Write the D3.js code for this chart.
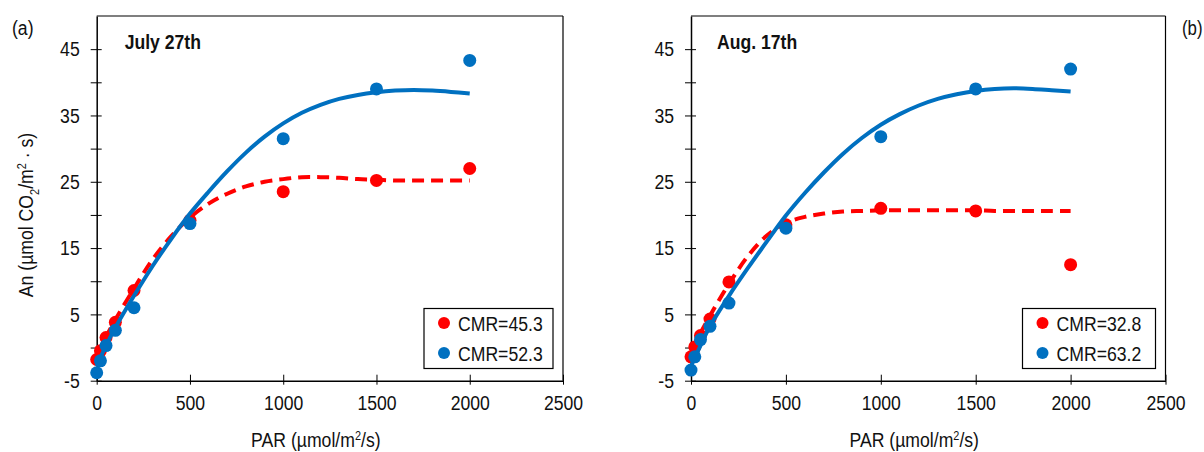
<!DOCTYPE html>
<html>
<head>
<meta charset="utf-8">
<script src="https://d3js.org/d3.v7.min.js"></script>
<style>
  html, body { margin: 0; padding: 0; background: #fff; }
  svg text { font-family: "Liberation Sans", Arial, sans-serif; fill: #111; }
</style>
</head>
<body>
<svg id="chart" width="1204" height="452"></svg>
<script>
// measured PAR levels
const par = [0, 20, 50, 100, 200, 500, 1000, 1500, 2000];

// panel (a) July 27th
const julyRed = [-1.8, -0.5, 1.5, 3.8, 8.6, 19.2, 23.5, 25.2, 27.0];
const julyBlue = [-3.8, -2.0, 0.3, 2.6, 6.0, 18.7, 31.5, 39.0, 43.3];
// panel (b) Aug. 17th
const augRed = [-1.4, 0.1, 1.8, 4.3, 9.9, 18.5, 21.0, 20.6, 12.5];
const augBlue = [-3.4, -1.4, 1.2, 3.2, 6.7, 18.0, 31.8, 39.0, 42.0];

// fitted curves
const fitPar = [0, 50, 100, 200, 300, 400, 500, 600, 700, 800, 900, 1000, 1100, 1200, 1300, 1400, 1500, 1600, 1700, 1800, 1900, 2000];
const julyRedFit = [-1.2, 1.6, 4.2, 8.9, 13.3, 16.8, 19.6, 21.7, 23.2, 24.3, 25.0, 25.4, 25.7, 25.7, 25.6, 25.4, 25.3, 25.2, 25.2, 25.2, 25.2, 25.2];
const julyBlueFit = [-2.8, 0.3, 3.0, 7.8, 12.3, 16.4, 20.2, 23.5, 26.6, 29.4, 31.8, 33.8, 35.4, 36.6, 37.5, 38.1, 38.5, 38.75, 38.85, 38.75, 38.55, 38.3];
const augRedFit = [-0.5, 2.2, 4.8, 9.6, 13.8, 16.9, 18.8, 19.7, 20.2, 20.5, 20.6, 20.7, 20.7, 20.7, 20.7, 20.7, 20.7, 20.6, 20.6, 20.6, 20.6, 20.6];
const augBlueFit = [-2.8, 0.3, 3.2, 7.8, 12.0, 16.0, 19.9, 23.3, 26.4, 29.2, 31.6, 33.6, 35.2, 36.5, 37.5, 38.2, 38.7, 39.0, 39.1, 39.0, 38.8, 38.6];

const yMajor = [-5, 5, 15, 25, 35, 45];
const yMinor = [0, 10, 20, 30, 40];
const xTicks = [0, 500, 1000, 1500, 2000, 2500];

const RED = "#ff0000", BLUE = "#0070c0";
const K = 0.84; // horizontal squeeze to mimic a condensed face

const svg = d3.select("#chart");

// squeeze text horizontally while keeping its anchor point
function condense(sel, k) {
  sel.each(function() {
    const t = d3.select(this);
    const x = +(t.attr("x") || 0);
    const tr = t.attr("transform") || "";
    t.attr("x", x / k).attr("transform", tr + ` scale(${k},1)`);
  });
}

function drawPanel(p) {
  const x = d3.scaleLinear().domain([0, 2500]).range([p.left, p.right]);
  const y = d3.scaleLinear().domain([-5, 50]).range([380.7, 16]);
  const g = svg.append("g");

  // frame top & right
  g.append("line").attr("x1", p.left).attr("x2", p.right).attr("y1", y(50)).attr("y2", y(50))
    .attr("stroke", "#000").attr("stroke-width", 1.2);
  g.append("line").attr("x1", p.right).attr("x2", p.right).attr("y1", y(50)).attr("y2", y(-5))
    .attr("stroke", "#000").attr("stroke-width", 1.2);

  // y axis
  const ya = g.append("g").attr("transform", `translate(${p.left},0)`)
    .call(d3.axisLeft(y).tickValues(yMajor.concat(yMinor)).tickSize(6).tickSizeOuter(0).tickPadding(11)
      .tickFormat(d => yMajor.includes(d) ? d : ""));
  ya.selectAll(".tick line").attr("x1", 5);
  ya.selectAll(".tick text").style("font-size", "21px");
  condense(ya.selectAll(".tick text"), K);
  ya.select(".domain").attr("stroke-width", 1.5);

  // x axis
  const xa = g.append("g").attr("transform", `translate(0,${y(-5)})`)
    .call(d3.axisBottom(x).tickValues(xTicks).tickFormat(d3.format("d")).tickSize(4).tickSizeOuter(0).tickPadding(10));
  xa.selectAll(".tick line").attr("y1", -6);
  xa.selectAll(".tick text").style("font-size", "21px");
  condense(xa.selectAll(".tick text"), K);
  xa.select(".domain").attr("stroke-width", 1.5);

  const line = d3.line().x((d, i) => x(fitPar[i])).y(d => y(d)).curve(d3.curveCatmullRom);

  g.append("path").datum(p.redFit).attr("d", line).attr("fill", "none")
    .attr("stroke", RED).attr("stroke-width", 4).attr("stroke-dasharray", "12,7");
  g.selectAll(".rdot").data(p.red).enter().append("circle")
    .attr("cx", (d, i) => x(par[i])).attr("cy", d => y(d)).attr("r", 6.5).attr("fill", RED);
  g.append("path").datum(p.blueFit).attr("d", line).attr("fill", "none")
    .attr("stroke", BLUE).attr("stroke-width", 4);
  g.selectAll(".bdot").data(p.blue).enter().append("circle")
    .attr("cx", (d, i) => x(par[i])).attr("cy", d => y(d)).attr("r", 6.5).attr("fill", BLUE);

  // title
  condense(g.append("text").attr("x", p.left + p.titleDx).attr("y", 49.5)
    .style("font-size", "20px").style("font-weight", "bold").text(p.title), 0.88);

  // legend
  const lx = p.right - 10 - p.legW, ly = 308.5;
  g.append("rect").attr("x", lx).attr("y", ly).attr("width", p.legW).attr("height", 60)
    .attr("fill", "#fff").attr("stroke", "#000").attr("stroke-width", 1.2);
  [[RED, p.legend[0]], [BLUE, p.legend[1]]].forEach((it, i) => {
    g.append("circle").attr("cx", lx + 20).attr("cy", ly + 14.5 + i * 30).attr("r", 6).attr("fill", it[0]);
    condense(g.append("text").attr("x", lx + 34).attr("y", ly + 14.5 + i * 30).attr("dy", "0.36em")
      .style("font-size", "21px").text(it[1]), K);
  });

  // x label
  const xl = g.append("text").attr("x", (p.left + p.right) / 2 - 14).attr("y", 447)
    .attr("text-anchor", "middle").style("font-size", "21px");
  xl.append("tspan").text("PAR (\u00b5mol/m");
  xl.append("tspan").attr("dy", -7).style("font-size", "13px").text("2");
  xl.append("tspan").attr("dy", 7).text("/s)");
  condense(xl, K);
}

drawPanel({left: 96.7, right: 563, title: "July 27th", titleDx: 28, red: julyRed, blue: julyBlue,
  redFit: julyRedFit, blueFit: julyBlueFit, legend: ["CMR=45.3", "CMR=52.3"], legW: 129});
drawPanel({left: 691, right: 1165.5, title: "Aug. 17th", titleDx: 26, red: augRed, blue: augBlue,
  redFit: augRedFit, blueFit: augBlueFit, legend: ["CMR=32.8", "CMR=63.2"], legW: 133});

// y label
const yl = svg.append("text").attr("transform", "translate(33,215) rotate(-90) scale(0.84,1)")
  .attr("text-anchor", "middle").style("font-size", "21px");
yl.append("tspan").text("An (\u00b5mol CO");
yl.append("tspan").attr("dy", 6).style("font-size", "13px").text("2");
yl.append("tspan").attr("dy", -6).text("/m");
yl.append("tspan").attr("dy", -7).style("font-size", "13px").text("2");
yl.append("tspan").attr("dy", 7).text(" \u00b7 s)");

// panel letters
condense(svg.append("text").attr("x", 12).attr("y", 35).style("font-size", "21px").text("(a)"), K);
condense(svg.append("text").attr("x", 1182).attr("y", 35).style("font-size", "21px").text("(b)"), 0.8);
</script>
</body>
</html>
